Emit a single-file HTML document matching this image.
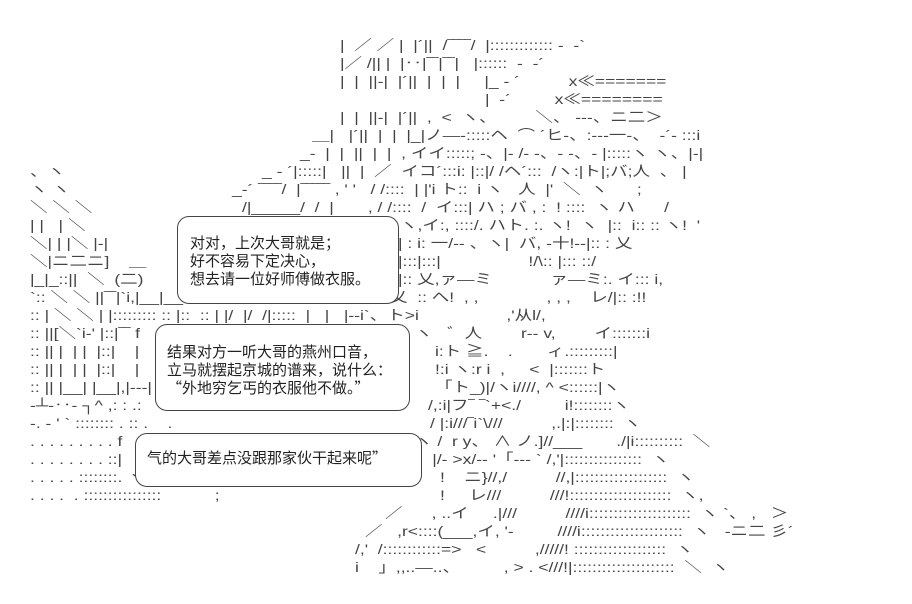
<!DOCTYPE html>
<html><head><meta charset="utf-8"><style>
body{margin:0;background:#fff;width:912px;height:604px;overflow:hidden;position:relative;font-family:"Liberation Sans","Noto Sans CJK JP",sans-serif;color:#333}
.l{position:absolute;white-space:pre;font-size:14px;line-height:18px;color:#444;transform:scaleX(1.25);transform-origin:0 0}
.b{position:absolute;border:1px solid #444;border-radius:12px;background:#fff}
.t{position:absolute;white-space:pre;font-size:15px;line-height:18px;color:#222;font-family:"Noto Sans CJK SC",sans-serif}
</style></head><body>
<div class="l" style="left:340px;top:36px">|  ／ ／ |  |´||  /‾‾‾‾/  |::::::::::::: ‐  ‐`</div>
<div class="l" style="left:340px;top:54px">|／ /|| |  |‥|‾‾|‾‾|   |::::::  ‐  ‐´</div>
<div class="l" style="left:340px;top:72px">|  |  ||-|  |´||  |  |  |     |_ ‐ ´          x≪=======</div>
<div class="l" style="left:485px;top:90px">|  ‐´         x≪========</div>
<div class="l" style="left:340px;top:108px">|  |  ||-|  |´||  ,  &lt;  ヽ、        ＼、 ‐‐‐、ニ二＞</div>
<div class="l" style="left:312px;top:126px">＿|   |´||  |  |  |_|ノ―‐:::::ヘ  ⌒ ´ヒ‐、:‐‐‐一‐、  ‐´‐ :::i</div>
<div class="l" style="left:300px;top:144px">_‐  |  |  ||  |  |  , イイ:::::; ‐、|‐ /‐ ‐、‐ ‐、‐ |:::::ヽ ヽ、|‐|</div>
<div class="l" style="left:30px;top:162px">、ヽ</div>
<div class="l" style="left:262px;top:162px">_ ‐ ´|:::::|   ||  |  ／  イコ´:::i: |::|/ /ヘ´:::  /ヽ:|ト|;バ;人  、 |</div>
<div class="l" style="left:30px;top:180px">ヽ ヽ</div>
<div class="l" style="left:232px;top:180px">_‐´ ‾‾‾‾/  |‾‾‾‾‾ , ' '   / /::::  | |'i ト::  i ヽ   人  |'  ＼  ヽ      ;</div>
<div class="l" style="left:30px;top:198px">＼ ＼ ＼</div>
<div class="l" style="left:242px;top:198px">/|_____/  /  |       , / /::::  /  イ:::| ハ ; バ , :  ! ::::  ヽ ハ      /</div>
<div class="l" style="left:30px;top:216px">| |   | ＼</div>
<div class="l" style="left:400px;top:216px">ヽ,イ:, ::::/. ハト. :. ヽ!  ヽ  |::  i:: :: ヽ!  '</div>
<div class="l" style="left:30px;top:234px">＼| | |＼ |‐|</div>
<div class="l" style="left:398px;top:234px">| : i: 一/‐‐ 、ヽ|  バ, ‐十!‐‐|:: : 乂</div>
<div class="l" style="left:30px;top:252px">＼|ニ二ニ]    ＿</div>
<div class="l" style="left:398px;top:252px">|:::|:::|                  !/\:: |::: ::/</div>
<div class="l" style="left:30px;top:270px">|_|_::||  ＼  (二)</div>
<div class="l" style="left:398px;top:270px">|:: 乂,ァ―ミ            ァ―ミ:. イ::: i,</div>
<div class="l" style="left:30px;top:288px">`:: ＼ ＼ ||‾‾|`i,|__|__ヽ</div>
<div class="l" style="left:390px;top:288px">乂  :: へ!  , ,              , , ,    レ/|:: :!!</div>
<div class="l" style="left:30px;top:306px">:: | ＼ ＼ | |::::::::: :: |::  :: | |/  |/  /|:::::  |   |   |‐‐i`、ト&gt;i                  ,'从l/,</div>
<div class="l" style="left:30px;top:324px">:: ||[＼`i‐' |::|‾‾ f</div>
<div class="l" style="left:415px;top:324px">ヽ   ゛人        r‐‐ v,        イ:::::::i</div>
<div class="l" style="left:30px;top:342px">:: || |  | |  |::|    |</div>
<div class="l" style="left:435px;top:342px">i:ト ≧.    .       ィ.:::::::::|</div>
<div class="l" style="left:30px;top:360px">:: || |  | |  |::|    |</div>
<div class="l" style="left:435px;top:360px">!:i ヽ:r i  ,     &lt;  |:::::::ト</div>
<div class="l" style="left:30px;top:378px">:: || |__| |__|,|‐‐‐|</div>
<div class="l" style="left:435px;top:378px">「ト_)|/ヽi////, ^ &lt;::::::|ヽ</div>
<div class="l" style="left:30px;top:396px">‐┴‐‥‐ ┐^ ,: : .:</div>
<div class="l" style="left:428px;top:396px">/,:i|フ‾ ‾`+&lt;./         i!::::::::ヽ</div>
<div class="l" style="left:30px;top:414px">-. ‐ ' ` :::::::: . :: .    .</div>
<div class="l" style="left:430px;top:414px">/ |:i///‾i`\///          ,.|:|::::::::  ヽ</div>
<div class="l" style="left:30px;top:432px">. . . . . . . . . f</div>
<div class="l" style="left:415px;top:432px">ヽ /  r y、 ∧ ノ.]//___       ./|i::::::::::  ＼</div>
<div class="l" style="left:30px;top:450px">. . . . . . . . ::|</div>
<div class="l" style="left:418px;top:450px">|  |/‐ &gt;x/‐‐ '「‐‐‐ ` /,'|::::::::::::::::  ヽ</div>
<div class="l" style="left:30px;top:468px">. . . . . ::::::::. ヽ</div>
<div class="l" style="left:440px;top:468px">!    ニ}//,/          //,|:::::::::::::::::::  ヽ</div>
<div class="l" style="left:30px;top:486px">. . . .  . ::::::::::::::::           ;</div>
<div class="l" style="left:440px;top:486px">!     レ///          ///!:::::::::::::::::::::  ヽ,</div>
<div class="l" style="left:385px;top:504px">／      , ..イ     .|///          ////i:::::::::::::::::::::  ヽ `、 ,   ＞</div>
<div class="l" style="left:365px;top:522px">／   ,r&lt;::::(___,イ, '‐         ////i:::::::::::::::::::::  ヽ   ‐ニ二 彡´</div>
<div class="l" style="left:355px;top:540px">/,'  /::::::::::::=&gt;   &lt;          ,/////! :::::::::::::::::::  ヽ</div>
<div class="l" style="left:355px;top:558px">i    」,,..—..、         , &gt; . &lt;///!|:::::::::::::::::::::  ＼  ヽ</div>

<div class="b" style="left:177px;top:216px;width:220px;height:86px"></div>
<div class="t" style="left:190px;top:234px">对对，上次大哥就是；
好不容易下定决心，
想去请一位好师傅做衣服。</div>

<div class="b" style="left:155px;top:324px;width:253px;height:85px"></div>
<div class="t" style="left:167px;top:343px">结果对方一听大哥的燕州口音，
立马就摆起京城的谱来，说什么：
“外地穷乞丐的衣服他不做。”</div>

<div class="b" style="left:135px;top:433px;width:285px;height:52px"></div>
<div class="t" style="left:147px;top:449px">气的大哥差点没跟那家伙干起来呢”</div>
</body></html>
